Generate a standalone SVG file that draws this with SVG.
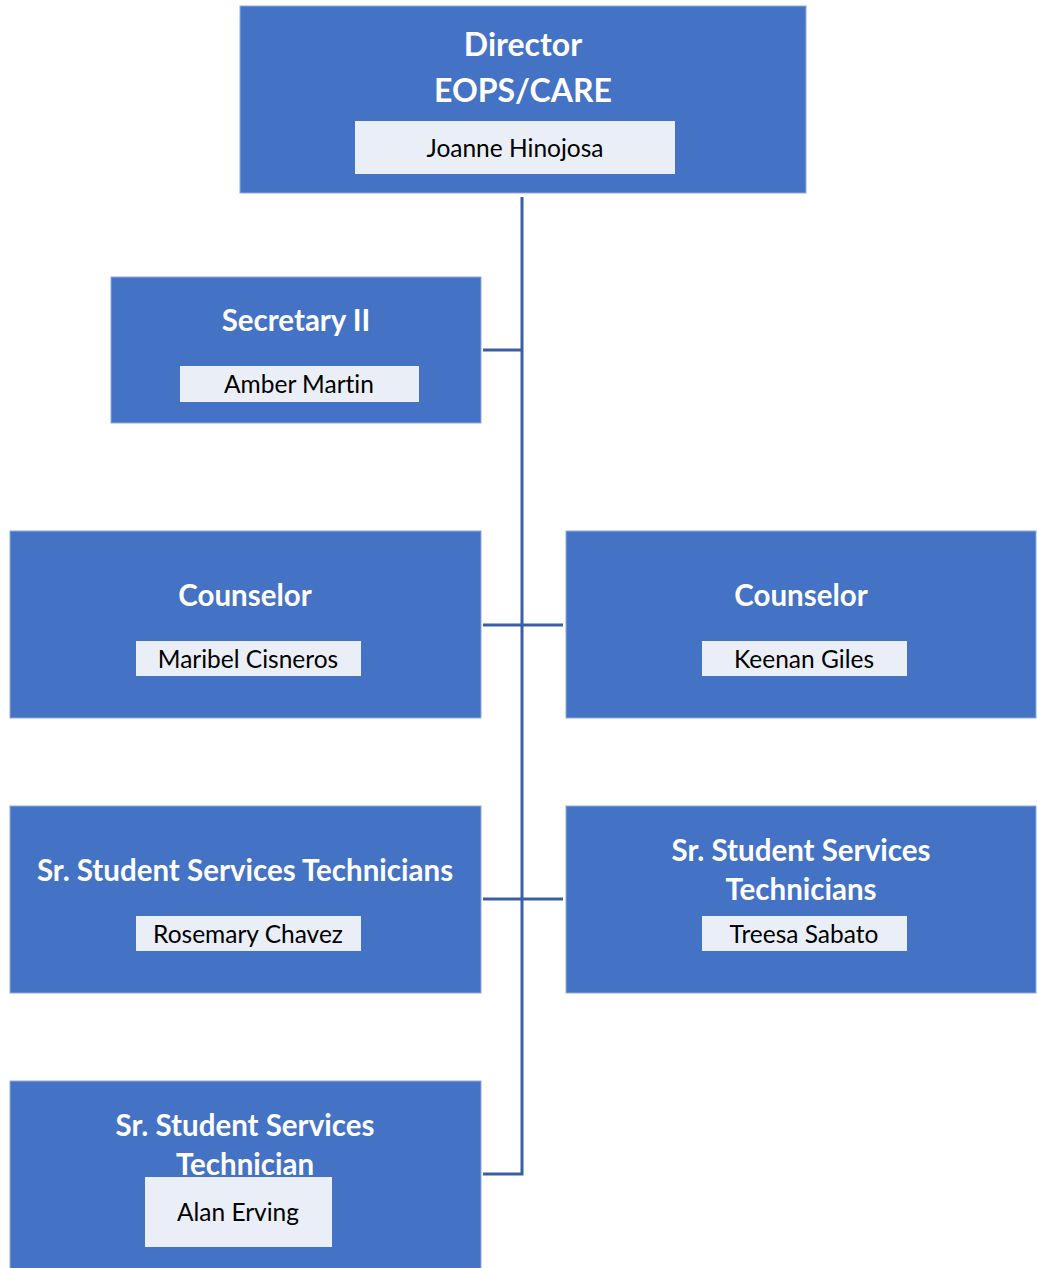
<svg xmlns="http://www.w3.org/2000/svg" width="1037" height="1268" viewBox="0 0 1037 1268">
<style>
.box{fill:#4472C4;stroke:#8FAADC;stroke-width:1}
.nm{fill:#EAEFF7}
.t{font-family:Lato,"Open Sans","Liberation Sans",sans-serif;font-weight:bold;font-size:29.5px;fill:#FFFFFF;text-anchor:middle;font-variant-ligatures:none}
.n{font-family:Lato,"Open Sans","Liberation Sans",sans-serif;font-size:24.5px;fill:#000000;text-anchor:middle;font-variant-ligatures:none}
.c{fill:none;stroke:#3B5EA6;stroke-width:3}
</style>
<rect width="1037" height="1268" fill="#FFFFFF"/>
<g id="connectors">
<path class="c" d="M522,197 V1174 H483"/>
<path class="c" d="M483,350 H522"/>
<path class="c" d="M483,625 H563"/>
<path class="c" d="M483,899 H563"/>
</g>
<g id="director">
<rect class="box" x="240" y="6" width="566" height="187"/>
<text class="t" x="523" y="56" style="font-size:32px">Director</text>
<text class="t" x="523" y="102" style="font-size:32px">EOPS/CARE</text>
<rect class="nm" x="355" y="121" width="320" height="53"/>
<text class="n" x="515" y="157">Joanne Hinojosa</text>
</g>
<g id="secretary">
<rect class="box" x="111" y="277" width="370" height="146"/>
<text class="t" x="296" y="331">Secretary II</text>
<rect class="nm" x="180" y="366" width="239" height="36"/>
<text class="n" x="299" y="393">Amber Martin</text>
</g>
<g id="counselor-left">
<rect class="box" x="10" y="531" width="471" height="187"/>
<text class="t" x="245" y="606">Counselor</text>
<rect class="nm" x="136" y="641" width="225" height="35"/>
<text class="n" x="248" y="668">Maribel Cisneros</text>
</g>
<g id="counselor-right">
<rect class="box" x="566" y="531" width="470" height="187"/>
<text class="t" x="801" y="606">Counselor</text>
<rect class="nm" x="702" y="641" width="205" height="35"/>
<text class="n" x="804" y="668">Keenan Giles</text>
</g>
<g id="tech-left">
<rect class="box" x="10" y="806" width="471" height="187"/>
<text class="t" x="245" y="881">Sr. Student Services Technicians</text>
<rect class="nm" x="136" y="916" width="225" height="35"/>
<text class="n" x="248" y="943">Rosemary Chavez</text>
</g>
<g id="tech-right">
<rect class="box" x="566" y="806" width="470" height="187"/>
<text class="t" x="801" y="861">Sr. Student Services</text>
<text class="t" x="801" y="900">Technicians</text>
<rect class="nm" x="702" y="916" width="205" height="35"/>
<text class="n" x="804" y="943">Treesa Sabato</text>
</g>
<g id="tech-bottom">
<rect class="box" x="10" y="1081" width="471" height="200"/>
<text class="t" x="245" y="1136">Sr. Student Services</text>
<text class="t" x="245" y="1175">Technician</text>
<rect class="nm" x="145" y="1177" width="187" height="70"/>
<text class="n" x="238" y="1221">Alan Erving</text>
</g>
</svg>
